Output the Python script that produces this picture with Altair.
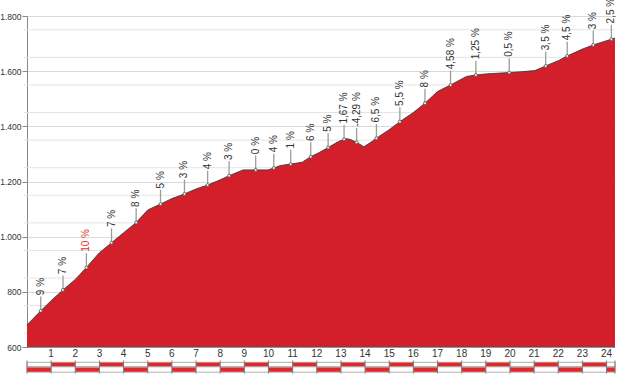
import altair as alt
import pandas as pd

# ---- data ----
profile_km = [0, 0.57, 1.0, 1.49, 2.0, 2.46, 3.0, 3.5, 4.0, 4.52, 5.0, 5.53, 6.0, 6.52,
              7.0, 7.48, 8.0, 8.37, 8.95, 9.47, 9.98, 10.22, 10.5, 10.92, 11.4, 11.75,
              12.1, 12.47, 12.9, 13.13, 13.25, 13.4, 13.65, 13.95, 14.2, 14.47, 15.0,
              15.44, 16.0, 16.48, 17.0, 17.54, 18.2, 18.59, 19.0, 19.97, 20.5, 21.03,
              21.48, 22.0, 22.37, 23.0, 23.45, 24.2, 24.35]
profile_elev = [680, 731, 768, 807, 845, 888, 942, 978, 1014, 1051, 1097, 1118, 1138, 1155,
                1173, 1187, 1206, 1221, 1242, 1242, 1242, 1249, 1258, 1263, 1270, 1290,
                1305, 1323, 1345, 1353, 1355, 1352, 1342, 1326, 1340, 1357, 1388,
                1417, 1450, 1484, 1526, 1550, 1581, 1586, 1590, 1595, 1598, 1602,
                1619, 1638, 1655, 1680, 1695, 1716, 1720]

label_km = [0.57, 1.49, 2.46, 3.5, 4.52, 5.53, 6.52, 7.48, 8.37, 9.47, 10.22, 10.92,
            11.75, 12.47, 13.13, 13.65, 14.47, 15.44, 16.48, 17.54, 18.59, 19.97,
            21.48, 22.37, 23.45, 24.2]
label_text = ["9 %", "7 %", "10 %", "7 %", "8 %", "5 %", "3 %", "4 %", "3 %", "0 %",
              "4 %", "1 %", "6 %", "5 %", "1,67 %", "-4,29 %", "6,5 %", "5,5 %", "8 %",
              "4,58 %", "1,25 %", "0,5 %", "3,5 %", "4,5 %", "3 %", "2,5 %"]
label_color = ["#333333"] * len(label_km)
label_color[2] = "#e2302d"

km_ticks = list(range(1, 25))
km_marks = list(range(0, 25))
elev_ticks = list(range(600, 1801, 100))
elev_minor = list(range(650, 1800, 100))

# ---- layout / style ----
W, H = 588, 331
XMAX = 24.35
RED = "#d21f29"
FONT_N = "'Liberation Sans Narrow', 'Liberation Sans', sans-serif"
FONT = "'Liberation Sans', sans-serif"

prof = pd.DataFrame({"km": profile_km, "elev": profile_elev})
elev_at = dict(zip(profile_km, profile_elev))
labs = pd.DataFrame({"km": label_km,
                     "elev": [elev_at[k] for k in label_km],
                     "txt": label_text, "col": label_color})
segs = pd.DataFrame({"k": km_marks,
                     "k2": [min(k + 1, XMAX) for k in km_marks],
                     "odd": [k % 2 for k in km_marks]})
marks = pd.DataFrame({"k": km_marks + [XMAX]})
xlabs = pd.DataFrame({"k": km_ticks, "t": [str(k) for k in km_ticks]})

xs = alt.Scale(domain=[0, XMAX], nice=False, zero=False)
ys = alt.Scale(domain=[600, 1800], nice=False, zero=False)


def X(field):
    return alt.X(field, scale=xs, axis=None)


def Y(field):
    return alt.Y(field, scale=ys)


yaxis = alt.Axis(values=elev_ticks, grid=True, gridColor="#dadada",
                 tickSize=5, tickColor="#888888", domainColor="#888888",
                 labelFontSize=8.5, labelColor="#333333", labelFont=FONT_N,
                 labelPadding=1, labelOverlap=False,
                 labelExpr="replace(format(datum.value, ','), ',', '.')")

minor = alt.Chart(pd.DataFrame({"e": elev_minor})).mark_rule(
    color="#e4e4e4", strokeWidth=1).encode(
    y=alt.Y("e:Q", scale=ys, title=None, axis=yaxis),
    x=alt.value(-3), x2=alt.value(W))

area = alt.Chart(prof).mark_area(
    color=RED, opacity=1, line={"color": "#3c3c3c", "strokeWidth": 0.9}).encode(
    x=X("km:Q"),
    y=alt.Y("elev:Q", scale=ys, title=None, axis=yaxis),
    y2=alt.datum(600))

base_rule = alt.Chart(pd.DataFrame({"e": [600]})).mark_rule(
    color="#555555", strokeWidth=1).encode(
    y=Y("e:Q"), x=alt.value(0), x2=alt.value(W))

x_text = alt.Chart(xlabs).mark_text(
    font=FONT, fontSize=10, color="#333333", baseline="middle", align="center").encode(
    x=X("k:Q"), y=alt.value(H + 6.5), text="t:N")

lab_base = alt.Chart(labs).transform_calculate(
    top="datum.elev + 52", ttop="datum.elev + 57")

leaders = lab_base.mark_rule(color="#9c9c9c", strokeWidth=1.3).encode(
    x=X("km:Q"), y=Y("elev:Q"), y2="top:Q")

pts = lab_base.mark_point(filled=True, fill="#f0f0f0", stroke="#555555",
                          strokeWidth=0.8, size=9, opacity=1).encode(
    x=X("km:Q"), y=Y("elev:Q"))

texts = lab_base.mark_text(angle=270, align="left", baseline="middle",
                           font=FONT_N, fontSize=10).encode(
    x=X("km:Q"), y=Y("ttop:Q"),
    text="txt:N", color=alt.Color("col:N", scale=None))

box_top = alt.Chart(pd.DataFrame({"a": [0], "b": [XMAX]})).mark_rect(
    fill="white", stroke="#9a9a9a", strokeWidth=0.8).encode(
    x=X("a:Q"), x2="b:Q", y=alt.value(346.3), y2=alt.value(350.8))
box_bot = alt.Chart(pd.DataFrame({"a": [0], "b": [XMAX]})).mark_rect(
    fill="white", stroke="#9a9a9a", strokeWidth=0.8).encode(
    x=X("a:Q"), x2="b:Q", y=alt.value(350.8), y2=alt.value(356.2))

red_top = alt.Chart(segs).transform_filter("datum.odd == 1").mark_rect(
    fill="#de2a2c").encode(
    x=X("k:Q"), x2="k2:Q", y=alt.value(346.6), y2=alt.value(350.2))
red_bot = alt.Chart(segs).transform_filter("datum.odd == 0").mark_rect(
    fill="#de2a2c").encode(
    x=X("k:Q"), x2="k2:Q", y=alt.value(351.4), y2=alt.value(355.8))

tick_rules = alt.Chart(marks).mark_rule(color="#7a7a7a", strokeWidth=1).encode(
    x=X("k:Q"), y=alt.value(344.5), y2=alt.value(357.5))

chart = alt.layer(minor, area, base_rule, x_text, leaders, pts, texts, box_top, box_bot,
                  red_top, red_bot, tick_rules).properties(
    width=W, height=H, autosize="none",
    padding={"left": 27, "top": 16, "right": 4, "bottom": 30},
    background="white",
).configure_view(stroke=None)

chart.save("out.html", embed_options={"renderer": "svg", "actions": False})
